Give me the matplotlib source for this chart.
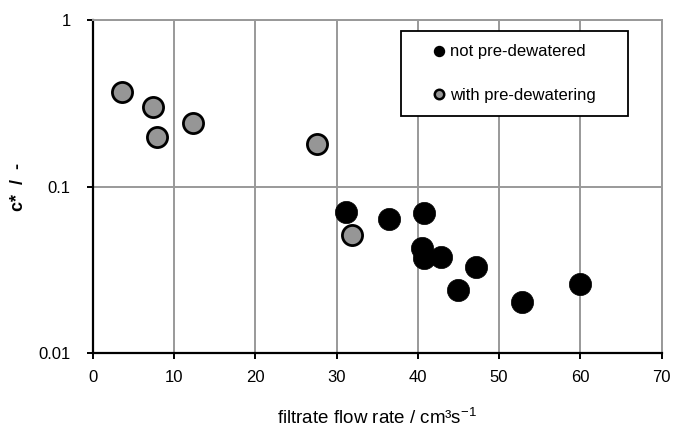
import numpy as np
import matplotlib
matplotlib.use("Agg")
from matplotlib import pyplot as plt
from matplotlib.lines import Line2D

# filtrate flow rate (cm3/s) and c* for both test series
flow_dry = [31.2, 36.4, 40.8, 40.5, 40.8, 42.8, 47.2, 45.0, 52.8, 60.0]
c_dry = [0.070, 0.0635, 0.069, 0.043, 0.0374, 0.038, 0.0327, 0.0239, 0.0202, 0.0261]

flow_pre = [3.6, 7.4, 7.9, 12.3, 27.6, 31.9]
c_pre = [0.37, 0.30, 0.20, 0.24, 0.18, 0.051]

xticks = [0, 10, 20, 30, 40, 50, 60, 70]
yticks = [0.01, 0.1, 1]
ytick_labels = ["0.01", "0.1", "1"]

plt.rcParams["font.family"] = ["Liberation Sans", "DejaVu Sans"]
plt.rcParams["font.size"] = 12
plt.rcParams["mathtext.fontset"] = "custom"
plt.rcParams["mathtext.rm"] = "Liberation Sans"
plt.rcParams["mathtext.it"] = "Liberation Sans:italic"

fig = plt.figure(figsize=(6.82, 4.29), dpi=100)
ax = fig.add_axes([0.136, 0.177, 0.834, 0.776])

grid_col = "#999999"
ax.set_yscale("log")
ax.set_xlim(0, 70)
ax.set_ylim(0.01, 1)
ax.set_xticks(xticks)
ax.set_xticklabels([str(t) for t in xticks])
ax.set_yticks(yticks)
ax.set_yticklabels(ytick_labels)
ax.yaxis.set_minor_locator(matplotlib.ticker.NullLocator())
ax.grid(True, color=grid_col, linewidth=1.4)
ax.set_axisbelow(True)

for s in ["left", "bottom"]:
    ax.spines[s].set_color("black")
    ax.spines[s].set_linewidth(1.6)
for s in ["top", "right"]:
    ax.spines[s].set_color(grid_col)
    ax.spines[s].set_linewidth(1.4)
ax.tick_params(axis="both", direction="out", length=4, width=1.4, colors="black",
               labelsize=12)
ax.tick_params(axis="x", pad=8)
ax.tick_params(axis="y", pad=12)

ax.plot(flow_dry, c_dry, "o", ls="none", ms=16, mfc="black", mec="black", mew=0.5,
        zorder=3)
ax.plot(flow_pre, c_pre, "o", ls="none", ms=14.5, mfc="#969696", mec="black", mew=2.0,
        zorder=4)

ax.set_xlabel("filtrate flow rate / cm³s$^{\\mathrm{-1}}$", fontsize=13.5, labelpad=17)
ax.set_ylabel("c*  /  -", fontsize=13, fontweight="bold", labelpad=8)

handles = [
    Line2D([], [], marker="o", ls="none", ms=7.2, mfc="black", mec="black"),
    Line2D([], [], marker="o", ls="none", ms=6.8, mfc="#969696", mec="black", mew=1.8),
]
leg = ax.legend(handles, ["not pre-dewatered", "with pre-dewatering"],
                loc="upper left", bbox_to_anchor=(0.5417, 0.709, 0.399, 0.258),
                mode="expand", fontsize=12,
                frameon=True, fancybox=False, framealpha=1, edgecolor="black",
                borderpad=0.8, labelspacing=1.72, handletextpad=-0.8,
                handlelength=2.95, borderaxespad=0)
leg.get_frame().set_linewidth(1.3)

fig.savefig("out.png", dpi=100)
